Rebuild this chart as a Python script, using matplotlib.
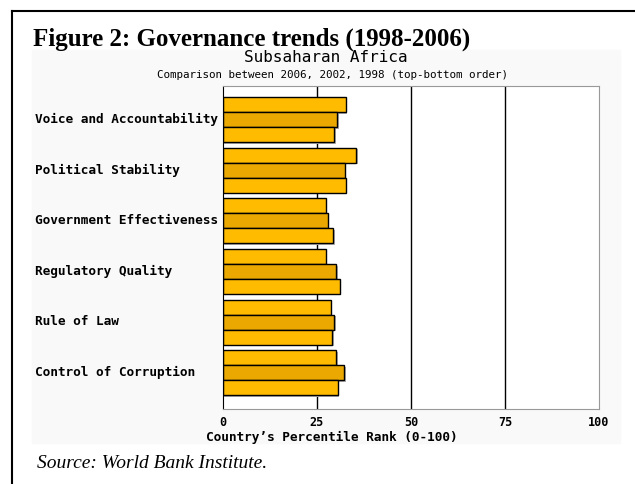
import numpy as np
import matplotlib.pyplot as plt
from matplotlib.patches import Rectangle
from matplotlib.lines import Line2D

categories = ["Voice and Accountability", "Political Stability",
              "Government Effectiveness", "Regulatory Quality",
              "Rule of Law", "Control of Corruption"]
years = ["2006", "2002", "1998"]
# percentile rank per year, top-bottom order in each group
v2006 = [32.7, 35.5, 27.3, 27.3, 28.7, 30.1]
v2002 = [30.4, 32.4, 27.8, 30.1, 29.6, 32.2]
v1998 = [29.6, 32.7, 29.3, 31.0, 29.1, 30.5]
xticks = [0, 25, 50, 75, 100]

colors = ['#FFBB00', '#EBA800', '#FFBB00']
h = 0.296

fig = plt.figure(figsize=(6.35, 4.84), dpi=100)
fig.patches.append(Rectangle((32 / 635, 1 - 443 / 484), 588 / 635, 393 / 484,
                             transform=fig.transFigure, color='#f9f9f9', zorder=-5))
# outer frame (left and top)
fig.add_artist(Line2D([12 / 635, 12 / 635], [0, 1 - 11 / 484], transform=fig.transFigure,
                      color='k', lw=1.5))
fig.add_artist(Line2D([12 / 635, 1], [1 - 11 / 484, 1 - 11 / 484], transform=fig.transFigure,
                      color='k', lw=1.5))

ax = fig.add_axes([223 / 635, 1 - 409 / 484, 376 / 635, 323 / 484])
ax.set_facecolor('white')

y = np.arange(len(categories))
for k, vals in enumerate([v2006, v2002, v1998]):
    yy = y + (k - 1) * h
    # soft shadow
    ax.barh(yy + 0.03, np.array(vals) + 0.4, height=h, color='#b0b0b0', zorder=1)
    ax.barh(yy, vals, height=h, color=colors[k], edgecolor='k', lw=1, zorder=2)

for xv in [25, 50, 75]:
    ax.axvline(xv, color='k', lw=1, zorder=0.5)

ax.set_xlim(0, 100)
ax.set_ylim(5.715, -0.662)
ax.set_xticks(xticks)
ax.set_xticklabels([str(t) for t in xticks], family='DejaVu Sans Mono',
                   fontweight='bold', fontsize=8.5)
ax.tick_params(axis='x', length=0, pad=5)
ax.set_yticks([])
for s in ['top', 'right', 'bottom']:
    ax.spines[s].set_color('#999999')
ax.spines['left'].set_color('k')

for i, c in enumerate(categories):
    fig.text(35 / 635, 1 - (119.5 + i * 50.6) / 484, c, family='DejaVu Sans Mono',
             fontweight='bold', fontsize=9.15, va='center', ha='left')

fig.text(332 / 635, 1 - 437 / 484, "Country\u2019s Percentile Rank (0-100)",
         family='DejaVu Sans Mono', fontweight='bold', fontsize=9.15,
         ha='center', va='center')
fig.text(326 / 635, 1 - 62 / 484, "Subsaharan Africa", family='DejaVu Sans Mono',
         fontsize=11.5, ha='center', va='baseline')
fig.text(332 / 635, 1 - 74.5 / 484, "Comparison between 2006, 2002, 1998 (top-bottom order)",
         family='DejaVu Sans Mono', fontsize=7.8, ha='center', va='center')
fig.text(33 / 635, 1 - 46 / 484, "Figure 2: Governance trends (1998-2006)",
         family='Liberation Serif', fontweight='bold', fontsize=18,
         ha='left', va='baseline')
fig.text(37 / 635, 1 - 468 / 484, "Source: World Bank Institute.",
         family='Liberation Serif', style='italic', fontsize=14,
         ha='left', va='baseline')

fig.savefig('out.png', dpi=100)
